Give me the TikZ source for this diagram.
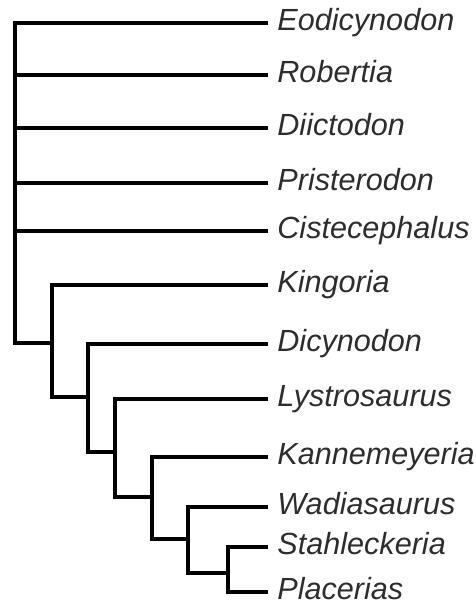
\documentclass[tikz,border=0pt]{standalone}
\usepackage{fontspec}
\setmainfont{Liberation Sans}
\usetikzlibrary{positioning}
\definecolor{TaxonGray}{RGB}{45,45,45}
\tikzset{
  taxon/.style={anchor=west,inner xsep=4.5pt,inner ysep=0pt,text height=0.72em,text depth=0pt,
    font=\fontsize{15.3}{18}\selectfont\itshape,text=TaxonGray},
  branch/.style={line width=2pt,line cap=butt,line join=miter}
}
\begin{document}
\begin{tikzpicture}[x=0.5pt,y=-0.5pt]
  \useasboundingbox (0,0) rectangle (476,610);
  \foreach \t/\y in {Eodicynodon/23,Robertia/75,Diictodon/128,Pristerodon/183,
      Cistecephalus/231,Kingoria/285,Dicynodon/344,Lystrosaurus/399,
      Kannemeyeria/457,Wadiasaurus/507,Stahleckeria/547,Placerias/592}
    \node[taxon] (\t) at (268,\y) {\t};
  \coordinate (root) at (15,343);
  \coordinate (c2) at (52,343);
  \coordinate (c3) at (88,397);
  \coordinate (c4) at (115,452);
  \coordinate (c5) at (152,497);
  \coordinate (c6) at (188,539);
  \coordinate (c7) at (228,573);
  \draw[branch] (Eodicynodon.west) -| (root) -- (c2);
  \draw[branch] (Robertia.west) -- (Robertia.west -| root);
  \draw[branch] (Diictodon.west) -- (Diictodon.west -| root);
  \draw[branch] (Pristerodon.west) -- (Pristerodon.west -| root);
  \draw[branch] (Cistecephalus.west) -- (Cistecephalus.west -| root);
  \draw[branch] (Kingoria.west) -| (c2) |- (c3);
  \draw[branch] (Dicynodon.west) -| (c3) |- (c4);
  \draw[branch] (Lystrosaurus.west) -| (c4) |- (c5);
  \draw[branch] (Kannemeyeria.west) -| (c5) |- (c6);
  \draw[branch] (Wadiasaurus.west) -| (c6) |- (c7);
  \draw[branch] (Stahleckeria.west) -| (c7) |- (Placerias.west);
\end{tikzpicture}
\end{document}
